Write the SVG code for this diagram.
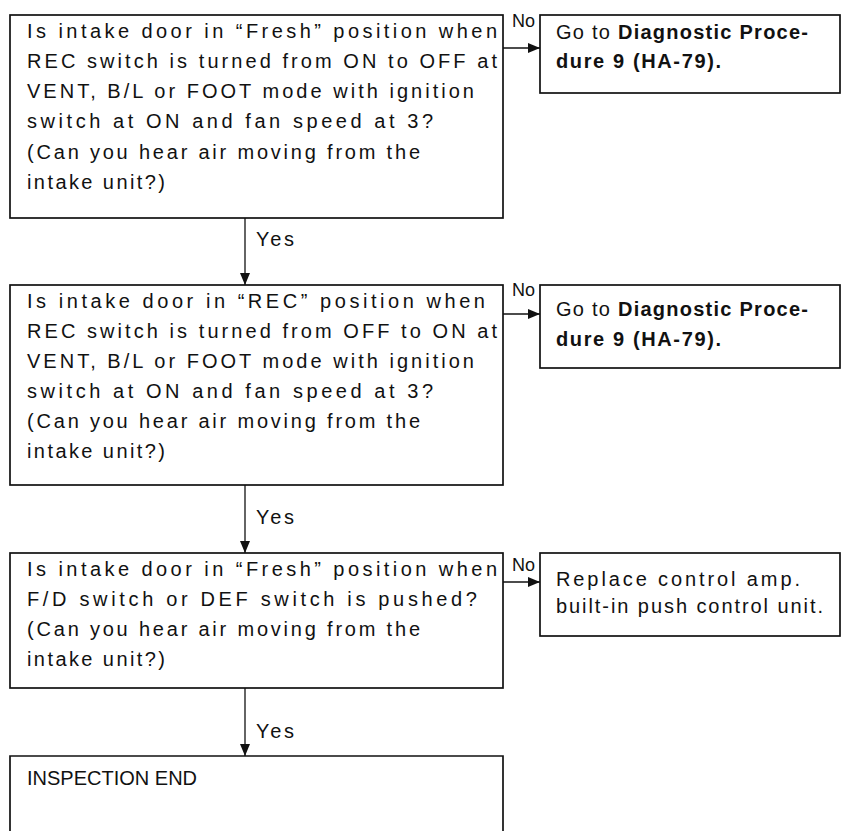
<svg xmlns="http://www.w3.org/2000/svg" width="856" height="831" viewBox="0 0 856 831">
<defs>
<marker id="ah" viewBox="0 0 12 10" refX="12" refY="5" markerWidth="12" markerHeight="10" markerUnits="userSpaceOnUse" orient="auto">
<path d="M0,0 L12,5 L0,10 Z" fill="#111"/>
</marker>
</defs>
<style>
.box{fill:#fff;stroke:#111;stroke-width:1.7}
.t{font-family:"Liberation Sans",Arial,sans-serif;font-size:20px;fill:#111}
.n{font-size:18px}
.b{font-weight:bold}
.c{stroke:#111;stroke-width:1.3;fill:none;marker-end:url(#ah)}
</style>
<rect width="856" height="831" fill="#fff"/>
<g id="connectors">
<line class="c" x1="503" y1="48" x2="540" y2="48"/>
<line class="c" x1="503" y1="314" x2="540" y2="314"/>
<line class="c" x1="503" y1="582" x2="540" y2="582"/>
<line class="c" x1="245" y1="218" x2="245" y2="285"/>
<line class="c" x1="245" y1="485" x2="245" y2="553"/>
<line class="c" x1="245" y1="688" x2="245" y2="756"/>
<text class="t n" x="512" y="27">No</text>
<text class="t n" x="512" y="296">No</text>
<text class="t n" x="512" y="571">No</text>
<text class="t" x="256" y="246" textLength="38" lengthAdjust="spacing">Yes</text>
<text class="t" x="256" y="524" textLength="38" lengthAdjust="spacing">Yes</text>
<text class="t" x="256" y="738" textLength="38" lengthAdjust="spacing">Yes</text>
</g>
<g id="q1">
<rect class="box" x="10" y="15" width="493" height="203"/>
<text class="t" x="27" y="38" textLength="470" lengthAdjust="spacing">Is intake door in “Fresh” position when</text>
<text class="t" x="27" y="68" textLength="470" lengthAdjust="spacing">REC switch is turned from ON to OFF at</text>
<text class="t" x="27" y="98" textLength="447" lengthAdjust="spacing">VENT, B/L or FOOT mode with ignition</text>
<text class="t" x="27" y="128" textLength="406" lengthAdjust="spacing">switch at ON and fan speed at 3?</text>
<text class="t" x="27" y="159" textLength="393" lengthAdjust="spacing">(Can you hear air moving from the</text>
<text class="t" x="27" y="189" textLength="138" lengthAdjust="spacing">intake unit?)</text>
</g>
<g id="r1">
<rect class="box" x="540" y="15" width="300" height="78"/>
<text class="t" x="556" y="39" textLength="252" lengthAdjust="spacing">Go to <tspan class="b">Diagnostic Proce-</tspan></text>
<text class="t b" x="556" y="68" textLength="165" lengthAdjust="spacing">dure 9 (HA-79).</text>
</g>
<g id="q2">
<rect class="box" x="10" y="285" width="493" height="200"/>
<text class="t" x="27" y="308" textLength="458" lengthAdjust="spacing">Is intake door in “REC” position when</text>
<text class="t" x="27" y="338" textLength="470" lengthAdjust="spacing">REC switch is turned from OFF to ON at</text>
<text class="t" x="27" y="368" textLength="447" lengthAdjust="spacing">VENT, B/L or FOOT mode with ignition</text>
<text class="t" x="27" y="398" textLength="406" lengthAdjust="spacing">switch at ON and fan speed at 3?</text>
<text class="t" x="27" y="428" textLength="393" lengthAdjust="spacing">(Can you hear air moving from the</text>
<text class="t" x="27" y="458" textLength="138" lengthAdjust="spacing">intake unit?)</text>
</g>
<g id="r2">
<rect class="box" x="540" y="285" width="300" height="83"/>
<text class="t" x="556" y="316" textLength="252" lengthAdjust="spacing">Go to <tspan class="b">Diagnostic Proce-</tspan></text>
<text class="t b" x="556" y="346" textLength="165" lengthAdjust="spacing">dure 9 (HA-79).</text>
</g>
<g id="q3">
<rect class="box" x="10" y="553" width="493" height="135"/>
<text class="t" x="27" y="576" textLength="470" lengthAdjust="spacing">Is intake door in “Fresh” position when</text>
<text class="t" x="27" y="606" textLength="450" lengthAdjust="spacing">F/D switch or DEF switch is pushed?</text>
<text class="t" x="27" y="636" textLength="393" lengthAdjust="spacing">(Can you hear air moving from the</text>
<text class="t" x="27" y="666" textLength="138" lengthAdjust="spacing">intake unit?)</text>
</g>
<g id="r3">
<rect class="box" x="540" y="553" width="300" height="83"/>
<text class="t" x="556" y="586" textLength="244" lengthAdjust="spacing">Replace control amp.</text>
<text class="t" x="556" y="613" textLength="267" lengthAdjust="spacing">built-in push control unit.</text>
</g>
<g id="end">
<path class="box" d="M10,831 V756 H503 V831"/>
<text class="t" x="27" y="785">INSPECTION END</text>
</g>
</svg>
